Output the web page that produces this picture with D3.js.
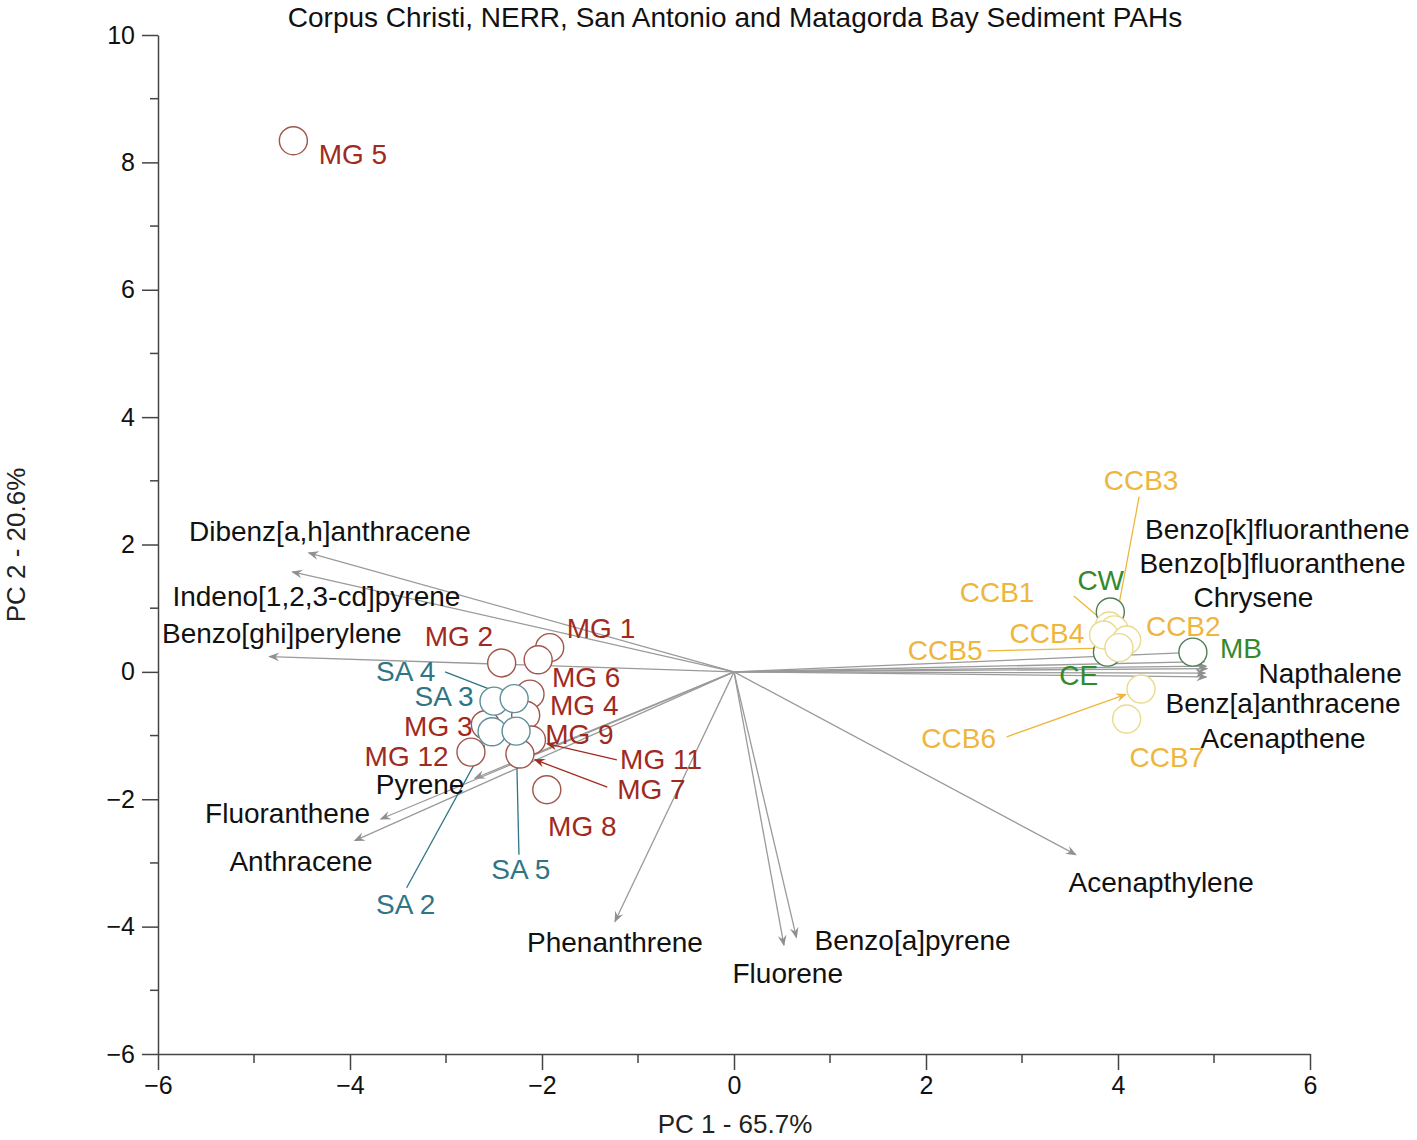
<!DOCTYPE html>
<html>
<head>
<meta charset="utf-8">
<script src="https://cdn.jsdelivr.net/npm/d3@7"></script>
<style>
  body{margin:0;background:#fff;}
  text{font-family:"Liberation Sans",Arial,Helvetica,sans-serif;}
</style>
</head>
<body>
<svg id="chart"></svg>
<script>
// sample scores (PC1, PC2)
var sampleNames = ["MG 5","MG 1","MG 6","MG 2","MG 4","MG 9","MG 3","MG 12","MG 11","MG 7","MG 8",
                   "SA 3","SA 4","SA 2","SA 5",
                   "CW","CE","CCB1","CCB3","CCB4","CCB2","CCB5","MB","CCB6","CCB7"];
var sampleGroup = ["MG","MG","MG","MG","MG","MG","MG","MG","MG","MG","MG",
                   "SA","SA","SA","SA",
                   "G","G","CCB","CCB","CCB","CCB","CCB","G","CCB","CCB"];
var samplePC1 = [-4.59,-1.92,-2.04,-2.42,-2.125,-2.17,-2.59,-2.74,-2.11,-2.23,-1.95,
                 -2.50,-2.29,-2.52,-2.27,
                 3.92,3.89,3.91,3.96,3.85,4.09,4.01,4.78,4.24,4.09];
var samplePC2 = [8.34,0.38,0.19,0.14,-0.35,-0.68,-0.83,-1.26,-1.07,-1.29,-1.85,
                 -0.46,-0.42,-0.94,-0.93,
                 0.94,0.31,0.72,0.66,0.58,0.50,0.38,0.31,-0.27,-0.74];

// variable loadings (vector tips)
var varNames = ["Dibenz[a,h]anthracene","Indeno[1,2,3-cd]pyrene","Benzo[ghi]perylene","Pyrene",
                "Fluoranthene","Anthracene","Phenanthrene","Fluorene","Benzo[a]pyrene","Acenapthylene",
                "Benzo[k]fluoranthene","Benzo[b]fluoranthene","Chrysene","Napthalene",
                "Benz[a]anthracene","Acenapthene"];
var varPC1 = [-4.43,-4.60,-4.84,-2.70,-3.68,-3.95,-1.24,0.52,0.65,3.56,4.84,4.90,4.92,4.93,4.91,4.92];
var varPC2 = [1.87,1.57,0.24,-1.67,-2.31,-2.65,-3.92,-4.29,-4.17,-2.87,0.31,0.16,0.09,0.05,-0.02,-0.08];

var xTicks = [-6,-4,-2,0,2,4,6];
var yTicks = [-6,-4,-2,0,2,4,6,8,10];

// label placement (data units)
var sampleLabelPos = {
  "MG 5":[-3.97,8.12],"MG 1":[-1.385,0.675],"MG 2":[-2.865,0.55],"MG 6":[-1.54,-0.09],
  "MG 4":[-1.56,-0.53],"MG 9":[-1.61,-0.98],"MG 11":[-0.76,-1.38],"MG 7":[-0.86,-1.85],
  "MG 8":[-1.58,-2.43],"MG 3":[-3.08,-0.86],"MG 12":[-3.41,-1.33],
  "SA 4":[-3.42,0.0],"SA 3":[-3.02,-0.39],"SA 5":[-2.22,-3.11],"SA 2":[-3.42,-3.66],
  "CCB3":[4.24,3.0],"CCB1":[2.74,1.24],"CCB4":[3.26,0.61],"CCB2":[4.68,0.72],
  "CCB5":[2.20,0.33],"CCB6":[2.34,-1.04],"CCB7":[4.51,-1.35],
  "CW":[3.82,1.43],"MB":[5.28,0.36],"CE":[3.59,-0.06]
};
// leader lines: label-side start point, arrow flag
var leaders = {
  "SA 4":[-3.01,0.0,false],"SA 2":[-3.41,-3.39,true],"SA 5":[-2.24,-2.87,false],
  "MG 11":[-1.22,-1.38,true],"MG 7":[-1.32,-1.81,true],
  "CCB3":[4.22,2.75,true],"CCB1":[3.54,1.19,false],"CCB5":[2.64,0.33,false],"CCB6":[2.84,-1.02,true]
};
var varLabelPos = [[-4.21,2.21],[-4.35,1.19],[-4.71,0.60],[-3.27,-1.77],[-4.65,-2.23],[-4.51,-2.97],
                   [-1.24,-4.25],[0.56,-4.73],[1.86,-4.22],[4.45,-3.30],[5.66,2.24],[5.61,1.70],
                   [5.41,1.16],[6.21,-0.02],[5.72,-0.49],[5.72,-1.05]];

var textColor = {MG:"#a02a1e",SA:"#2f7585",CCB:"#eeb63c",G:"#34892c"};
var ringColor = {MG:"#a0564c",SA:"#5f8f9a",CCB:"#eadb8c",G:"#4f7d56"};

function draw(){
  var width=1417, height=1140;
  var svg = d3.select("#chart").attr("width",width).attr("height",height);

  var x = d3.scaleLinear().domain([-6,6]).range([158,1310]);
  var y = d3.scaleLinear().domain([-6,10]).range([1054,35]);
  var r = 14;

  var defs = svg.append("defs");
  function marker(id,col){
    defs.append("marker").attr("id",id)
      .attr("viewBox","0 0 10 10").attr("refX",9).attr("refY",5)
      .attr("markerWidth",11).attr("markerHeight",11).attr("markerUnits","userSpaceOnUse")
      .attr("orient","auto")
      .append("path").attr("d","M0,1 L10,5 L0,9 L3.5,5 z").attr("fill",col);
  }
  marker("arrGrey","#8f8f8f");
  ["MG","SA","CCB","G"].forEach(function(g){ marker("arr"+g,textColor[g]); });

  // axes
  var xAxis = d3.axisBottom(x).tickValues(xTicks).tickSize(16).tickSizeOuter(0).tickPadding(6);
  var yAxis = d3.axisLeft(y).tickValues(yTicks).tickSize(16).tickSizeOuter(0).tickPadding(7);
  var gx = svg.append("g").attr("transform","translate(0,"+y(-6)+")").call(xAxis);
  var gy = svg.append("g").attr("transform","translate("+x(-6)+",0)").call(yAxis);
  [gx,gy].forEach(function(g){
    g.select(".domain").attr("stroke","#444").attr("stroke-width",1.5);
    g.selectAll(".tick line").attr("stroke","#444").attr("stroke-width",1.5);
    g.selectAll(".tick text").attr("fill","#111").style("font-size","25px")
      .style("font-family","'Liberation Sans',Arial,sans-serif");
  });
  // minor ticks
  d3.range(-5,6,2).forEach(function(v){
    gx.append("line").attr("x1",x(v)).attr("x2",x(v)).attr("y1",0).attr("y2",9)
      .attr("stroke","#444").attr("stroke-width",1.5);
  });
  d3.range(-5,10,2).forEach(function(v){
    gy.append("line").attr("y1",y(v)).attr("y2",y(v)).attr("x1",0).attr("x2",-8)
      .attr("stroke","#444").attr("stroke-width",1.5);
  });

  // titles
  svg.append("text").attr("x",735).attr("y",27).attr("text-anchor","middle")
    .style("font-size","28px").attr("fill","#111")
    .text("Corpus Christi, NERR, San Antonio and Matagorda Bay Sediment PAHs");
  svg.append("text").attr("x",735).attr("y",1133).attr("text-anchor","middle")
    .style("font-size","26px").attr("fill","#222").text("PC 1 - 65.7%");
  svg.append("text").attr("transform","translate(25,545) rotate(-90)").attr("text-anchor","middle")
    .style("font-size","26px").attr("fill","#222").text("PC 2 - 20.6%");

  // loading vectors
  varNames.forEach(function(n,i){
    svg.append("line").attr("class","vec")
      .attr("x1",x(0)).attr("y1",y(0)).attr("x2",x(varPC1[i])).attr("y2",y(varPC2[i]))
      .attr("stroke","#9a9a9a").attr("stroke-width",1.3)
      .attr("marker-end","url(#arrGrey)");
  });

  // leader lines
  sampleNames.forEach(function(n,i){
    var L = leaders[n];
    if(!L) return;
    var g = sampleGroup[i];
    var x1=x(L[0]), y1=y(L[1]), x2=x(samplePC1[i]), y2=y(samplePC2[i]);
    var dx=x2-x1, dy=y2-y1, len=Math.sqrt(dx*dx+dy*dy);
    var cut = L[2] ? r+2 : r*0.4;
    svg.append("line")
      .attr("x1",x1).attr("y1",y1)
      .attr("x2",x2-dx/len*cut).attr("y2",y2-dy/len*cut)
      .attr("stroke",textColor[g]).attr("stroke-width",1.3)
      .attr("marker-end",L[2] ? "url(#arr"+g+")" : null);
  });

  // sample circles
  sampleNames.forEach(function(n,i){
    var g = sampleGroup[i];
    svg.append("circle").attr("cx",x(samplePC1[i])).attr("cy",y(samplePC2[i])).attr("r",r)
      .attr("fill","#fff").attr("stroke",ringColor[g]).attr("stroke-width",1.4);
  });

  // sample labels
  sampleNames.forEach(function(n,i){
    var p = sampleLabelPos[n];
    svg.append("text").attr("x",x(p[0])).attr("y",y(p[1]))
      .attr("text-anchor","middle").attr("dominant-baseline","central")
      .style("font-size","28px").attr("fill",textColor[sampleGroup[i]]).text(n);
  });

  // variable labels
  varNames.forEach(function(n,i){
    var p = varLabelPos[i];
    svg.append("text").attr("x",x(p[0])).attr("y",y(p[1]))
      .attr("text-anchor","middle").attr("dominant-baseline","central")
      .style("font-size","28px").attr("fill","#111").text(n);
  });
}

draw();
</script>
</body>
</html>
